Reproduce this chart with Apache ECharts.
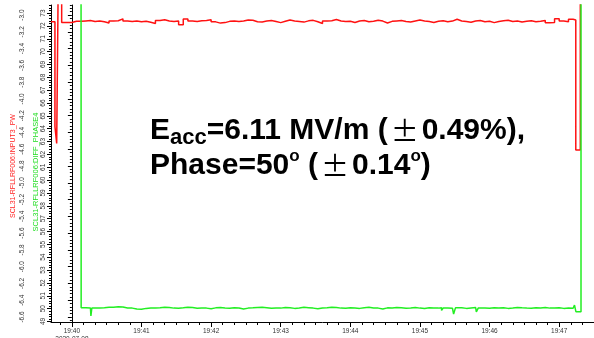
<!DOCTYPE html>
<html>
<head>
<meta charset="utf-8">
<script src="https://cdn.jsdelivr.net/npm/echarts@6/dist/echarts.min.js"></script>
<style>
html,body{margin:0;padding:0;background:#fff;}
#main{width:594px;height:338px;}
</style>
</head>
<body>
<div id="main"></div>
<script>
// time in seconds from 19:40:00
var sampleSec = [
	-8,-4,0,4,8,12,16,20,24,28,
	32,36,40,44,48,52,56,60,64,68,
	72,76,80,84,88,92,96,100,104,108,
	112,116,120,124,128,132,136,140,144,148,
	152,156,160,164,168,172,176,180,184,188,
	192,196,200,204,208,212,216,220,224,228,
	232,236,240,244,248,252,256,260,264,268,
	272,276,280,284,288,292,296,300,304,308,
	312,316,320,324,328,332,336,340,344,348,
	352,356,360,364,368,372,376,380,384,388,
	392,396,400,404,408,412,416,420,424,428,
	432
];
// SCL31-RFLLRF006:INPUT3_PW
var redSteady = [
	-3.090,-3.088,-3.075,-3.074,-3.070,-3.066,-3.076,-3.070,-3.080,-3.095,
	-3.070,-3.068,-3.045,-3.071,-3.076,-3.070,-3.080,-3.074,-3.086,-3.101,
	-3.065,-3.055,-3.071,-3.076,-3.070,-3.116,-3.046,-3.070,-3.076,-3.069,
	-3.064,-3.056,-3.081,-3.096,-3.090,-3.075,-3.070,-3.076,-3.071,-3.060,
	-3.062,-3.080,-3.082,-3.072,-3.066,-3.078,-3.090,-3.074,-3.058,-3.070,
	-3.076,-3.084,-3.069,-3.063,-3.079,-3.100,-3.072,-3.068,-3.052,-3.071,
	-3.078,-3.074,-3.088,-3.070,-3.066,-3.080,-3.074,-3.061,-3.072,-3.094,
	-3.075,-3.070,-3.066,-3.078,-3.083,-3.071,-3.059,-3.070,-3.076,-3.088,
	-3.074,-3.068,-3.080,-3.072,-3.050,-3.070,-3.077,-3.085,-3.071,-3.066,
	-3.079,-3.073,-3.090,-3.076,-3.069,-3.062,-3.077,-3.071,-3.083,-3.074,
	-3.068,-3.079,-3.073,-3.064,-3.092,-3.088,-3.043,-3.071,-3.079,-3.050,
	-3.058
];
var redEdgeSec = [-18, -14.6, -13.1, -11.7, -8.8, 434.3, 438.2];
var redEdgeVal = [-3.08, -4.33, -4.53, -2.5, -3.09, -4.61, -2.5];

// SCL31-RFLLRF006:DIFF_PHASE4
var greenSteady = [
	null,null,null,null,50.06,50.04,50.03,50.05,50.07,50.10,
	50.11,50.15,50.12,50.05,50.04,49.97,49.95,50.02,50.05,50.04,
	50.06,50.10,50.08,50.04,50.03,50.06,50.11,50.08,50.03,50.05,
	50.04,50.00,50.06,50.09,50.05,50.03,50.07,50.05,49.98,50.04,
	50.06,50.09,50.11,50.07,50.03,50.05,50.04,50.08,50.06,50.02,
	50.05,50.10,50.07,50.04,49.99,50.05,50.06,50.11,50.08,50.04,
	50.03,50.06,50.05,50.02,50.07,50.10,50.05,50.04,49.97,50.06,
	50.05,50.09,50.06,50.03,50.05,50.08,50.04,50.01,50.06,50.05,
	50.04,50.07,50.05,50.03,50.05,50.06,50.02,50.05,50.08,50.04,
	50.05,50.03,50.07,50.04,50.06,50.02,50.05,50.09,50.06,50.04,
	50.03,50.06,50.05,50.08,50.04,50.05,50.07,50.02,50.04,50.03,
	50.05
];
var greenEdgeSec = [7.9, 16.4, 17.2, 318.6, 320.2, 329, 330.6, 348.6, 350.2, 433.2, 434.4, 438.8];
var greenEdgeVal = [76, 49.43, 50.05, 49.86, 50.05, 49.58, 50.06, 49.74, 50.04, 50.28, 49.76, 76];

// axis ticks
var xTickSec = [0, 60, 120, 180, 240, 300, 360, 420];
var xTickLabels = ['19:40', '19:41', '19:42', '19:43', '19:44', '19:45', '19:46', '19:47'];
var dateLabel = '2020-07-08';
var pwTicks = [-6.6,-6.4,-6.2,-6.0,-5.8,-5.6,-5.4,-5.2,-5.0,-4.8,-4.6,-4.4,-4.2,-4.0,-3.8,-3.6,-3.4,-3.2,-3.0];
var phTicks = [49,50,51,52,53,54,55,56,57,58,59,60,61,62,63,64,65,66,67,68,69,70,71,72,73];
var pwName = 'SCL31-RFLLRF006:INPUT3_PW';
var phName = 'SCL31-RFLLRF006:DIFF_PHASE4';

function merge(ts, vs, et, ev){
	var out = [];
	for(var i=0;i<ts.length;i++){ if(vs[i] !== null) out.push([ts[i], vs[i]]); }
	for(var j=0;j<et.length;j++){ out.push([et[j], ev[j]]); }
	out.sort(function(a,b){ return a[0]-b[0]; });
	return out;
}

// minor tick positions
var xMinor = [], pwMinor = [], phMinor = [];
for(var s=-10;s<=450;s+=10){ if(s%60 !== 0) xMinor.push(s); }
for(var k=-166;k<=-72;k++){ if(k%5 !== 0) pwMinor.push(k*0.04); }
for(var m=245;m<=368;m++){ if(m%5 !== 0) phMinor.push(m*0.2); }

var axisBlack = {lineStyle: {color: '#000', width: 1}};
var lblFont = {fontSize: 6.5, color: '#333', fontFamily: 'Liberation Sans'};

var chart = echarts.init(document.getElementById('main'));
chart.setOption({
	animation: false,
	backgroundColor: '#fff',
	grid: {left: 51, right: 0, top: 5, bottom: 16, containLabel: false, outerBoundsMode: 'none'},
	xAxis: [
		{
			type: 'value', min: -18, max: 450,
			axisLine: axisBlack,
			axisTick: {customValues: xTickSec, length: 5, lineStyle: {color: '#000'}},
			axisLabel: Object.assign({
				customValues: xTickSec, margin: 5, lineHeight: 8,
				formatter: function(v){
					var i = xTickSec.indexOf(v);
					var t = i >= 0 ? xTickLabels[i] : '';
					return i === 0 ? t + '\n' + dateLabel : t;
				}
			}, lblFont),
			splitLine: {show: false}
		},
		{
			type: 'value', min: -18, max: 450, position: 'bottom',
			axisLine: {show: false},
			axisTick: {show: true, customValues: xMinor, length: 3, lineStyle: {color: '#000'}},
			axisLabel: {show: false},
			splitLine: {show: false}
		}
	],
	yAxis: [
		{
			type: 'value', position: 'left', offset: 21, min: -6.66, max: -2.88,
			axisLine: {show: true, lineStyle: {color: '#000'}},
			axisTick: {show: true, customValues: pwTicks, length: 4, lineStyle: {color: '#000'}},
			axisLabel: Object.assign({
				customValues: pwTicks, rotate: 90, margin: 4,
				formatter: function(v){ return v.toFixed(1); }
			}, lblFont),
			splitLine: {show: false}
		},
		{
			type: 'value', position: 'left', offset: 21, min: -6.66, max: -2.88,
			axisLine: {show: false},
			axisTick: {show: true, customValues: pwMinor, length: 2, lineStyle: {color: '#000'}},
			axisLabel: {show: false},
			splitLine: {show: false}
		},
		{
			type: 'value', position: 'left', offset: 0, min: 48.96, max: 73.63,
			axisLine: {show: true, lineStyle: {color: '#000'}},
			axisTick: {show: true, customValues: phTicks, length: 4, lineStyle: {color: '#000'}},
			axisLabel: Object.assign({
				customValues: phTicks, rotate: 90, margin: 4
			}, lblFont),
			splitLine: {show: false}
		},
		{
			type: 'value', position: 'left', offset: 0, min: 48.96, max: 73.63,
			axisLine: {show: false},
			axisTick: {show: true, customValues: phMinor, length: 2, lineStyle: {color: '#000'}},
			axisLabel: {show: false},
			splitLine: {show: false}
		}
	],
	series: [
		{
			name: pwName, type: 'line', step: 'end',
			xAxisIndex: 0, yAxisIndex: 0, showSymbol: false,
			lineStyle: {color: '#ff1111', width: 1.5}, itemStyle: {color: '#ff1111'},
			data: merge(sampleSec, redSteady, redEdgeSec, redEdgeVal)
		},
		{
			name: phName, type: 'line', step: 'end',
			xAxisIndex: 0, yAxisIndex: 2, showSymbol: false,
			lineStyle: {color: '#22ee22', width: 1.5}, itemStyle: {color: '#22ee22'},
			data: merge(sampleSec, greenSteady, greenEdgeSec, greenEdgeVal)
		}
	],
	graphic: [
		// axis titles
		{
			type: 'text', x: 13, y: 166, rotation: Math.PI / 2, silent: true,
			style: {text: pwName, fill: '#ff2222', fontSize: 7, fontFamily: 'Liberation Sans', align: 'center', verticalAlign: 'middle'}
		},
		{
			type: 'text', x: 36, y: 172, rotation: Math.PI / 2, silent: true,
			style: {text: phName, fill: '#22dd22', fontSize: 7.5, fontFamily: 'Liberation Sans', align: 'center', verticalAlign: 'middle'}
		},
		// annotation
		{
			type: 'text', x: 150, y: 113, silent: true,
			style: {
				text: '{m|E}{s|acc}{m|=6.11 MV/m (}{p|±}{m|0.49%),}',
				verticalAlign: 'top',
				rich: {
					m: {fontSize: 30, fontWeight: 'bold', fontFamily: 'Liberation Sans', color: '#000', lineHeight: 36},
					s: {fontSize: 22, fontWeight: 'bold', fontFamily: 'Liberation Sans', color: '#000', lineHeight: 22, verticalAlign: 'bottom'},
					p: {fontSize: 28, fontFamily: 'Noto Sans CJK KR', color: '#000', lineHeight: 36, padding: [0, 3, 0, 3]}
				}
			}
		},
		{
			type: 'text', x: 150, y: 148, silent: true,
			style: {
				text: '{m|Phase=50}{o|o}{m| (}{p|±}{m|0.14}{o|o}{m|)}',
				verticalAlign: 'top',
				rich: {
					m: {fontSize: 30, fontWeight: 'bold', fontFamily: 'Liberation Sans', color: '#000', lineHeight: 36},
					o: {fontSize: 17, fontWeight: 'bold', fontFamily: 'Liberation Sans', color: '#000', lineHeight: 17, verticalAlign: 'top'},
					p: {fontSize: 28, fontFamily: 'Noto Sans CJK KR', color: '#000', lineHeight: 36, padding: [0, 3, 0, 3]}
				}
			}
		}
	]
});
</script>
</body>
</html>
